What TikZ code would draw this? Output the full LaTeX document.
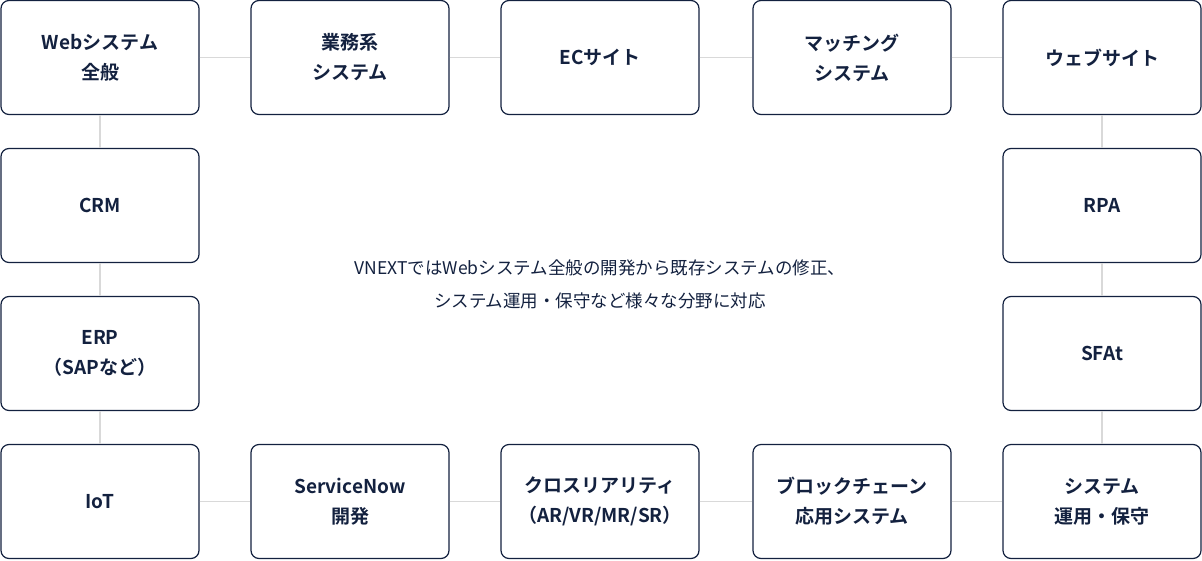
\documentclass[tikz,border=0pt]{standalone}
\usepackage{fontspec}
\newfontfamily\jp{Noto Sans CJK JP}
\newfontfamily\jpb{Noto Sans CJK JP Bold}
\definecolor{navy}{HTML}{13213F}
\definecolor{lgray}{HTML}{D9D9D9}
\begin{document}
\begin{tikzpicture}[x=1pt,y=-1pt,
 box/.style={draw=navy,line width=1.2pt,rounded corners=8pt,minimum width=198pt,minimum height=114pt,align=center,text=navy,font=\jpb\fontsize{19}{30}\selectfont,inner sep=0pt},
 link/.style={draw=lgray,line width=1.6pt}]
\useasboundingbox (0,0) rectangle (1202,560);
\foreach \n/\x/\y/\t in {
 a/100/57.5/{Webシステム\\全般}, b/350/57.5/{業務系\\システム}, c/600/57.5/{ECサイト}, d/852/57.5/{マッチング\\システム}, e/1102/57.5/{ウェブサイト},
 f/100/205.5/{CRM}, g/1102/205.5/{RPA},
 h/100/353.5/{ERP\\（SAPなど）}, i/1102/353.5/{SFAt},
 j/100/501.5/{IoT}, k/350/501.5/{ServiceNow\\開発}, l/600/501.5/{クロスリアリティ\\（AR/VR/MR/SR）}, m/852/501.5/{ブロックチェーン\\応用システム}, o/1102/501.5/{システム\\運用・保守}}
 {\node[box] (\n) at (\x,\y) {\t};}
\foreach \p/\q in {a/b,b/c,c/d,d/e,j/k,k/l,l/m,m/o}{\draw[link] (\p.east)--(\q.west);}
\foreach \p/\q in {a/f,f/h,h/j,e/g,g/i,i/o}{\draw[link] (\p.south)--(\q.north);}
\node[text=navy,font=\jp\fontsize{17.5}{33}\selectfont,align=center] (t) at (600,284) {VNEXTではWebシステム全般の開発から既存システムの修正、\\システム運用・保守など様々な分野に対応};
\end{tikzpicture}
\end{document}
